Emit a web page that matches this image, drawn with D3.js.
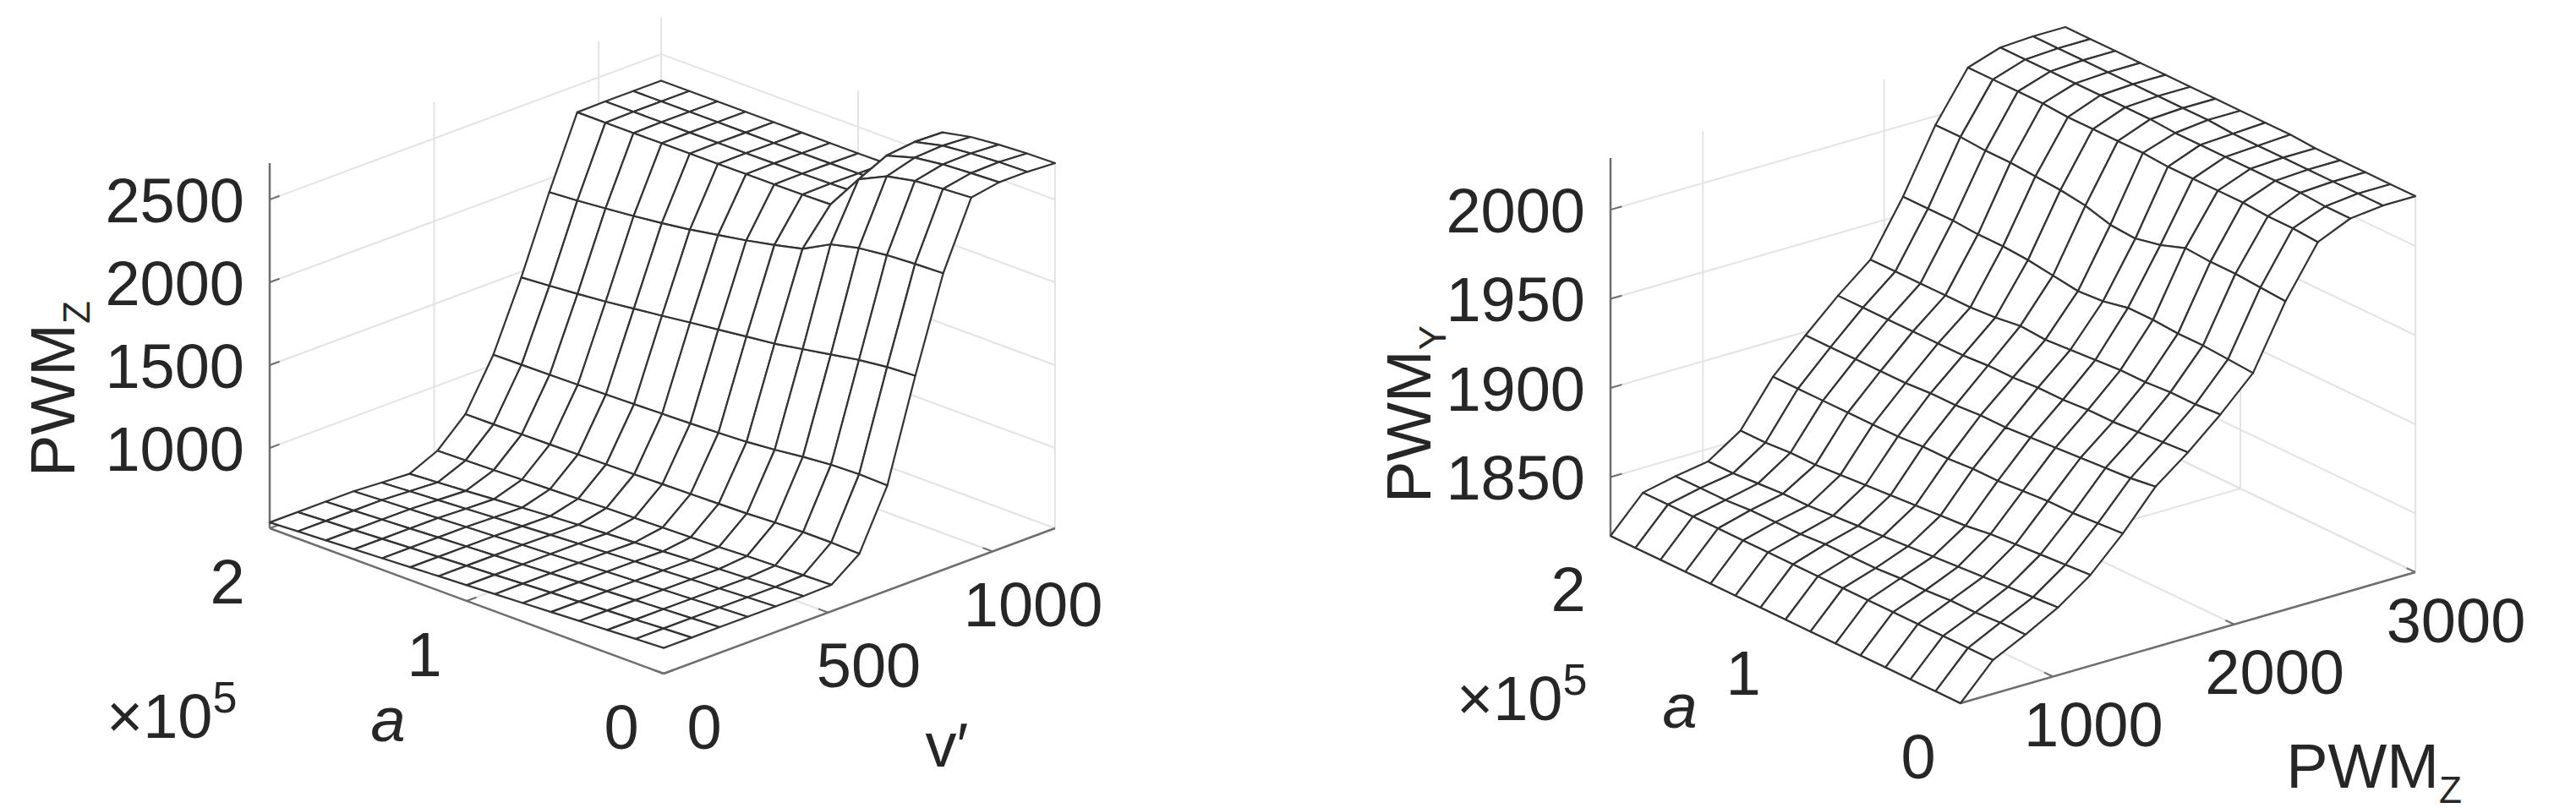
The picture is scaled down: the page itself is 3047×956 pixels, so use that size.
<!DOCTYPE html>
<html><head><meta charset="utf-8">
<script src="https://cdn.jsdelivr.net/npm/d3@7"></script>
<style>html,body{margin:0;padding:0;background:#fff;}svg text{font-family:"Liberation Sans",Arial,sans-serif;fill:#262626;}</style>
</head><body>
<svg id="c" width="3047" height="956"></svg>
<script>
// ---------- data ----------
const aVals = [0,0.142857,0.285714,0.428571,0.571429,0.714286,0.857143,1,1.142857,1.285714,1.428571,1.571429,1.714286,1.857143,2]; // ×10^5
const vVals = [0,85,170,255,340,425,510,595,680,765,850,935,1020,1105,1190];
const pwmZVals = [490,669,848,1028,1207,1386,1566,1745,1924,2104,2283,2462,2641,2821,3000];
const pwmZSurface = [
 [670,670,670,670,670,670,675,800,1150,1750,2306,2700,2730,2730,2720],
 [662,662,662,662,662,662,670,805,1155,1740,2300,2690,2722,2726,2716],
 [653,653,653,653,653,653,665,805,1150,1720,2290,2675,2712,2716,2706],
 [645,645,645,645,645,645,660,800,1135,1690,2270,2640,2690,2700,2690],
 [636,636,636,636,636,636,652,792,1115,1660,2230,2560,2640,2660,2655],
 [628,628,628,628,628,626,648,788,1100,1630,2140,2345,2350,2348,2345],
 [619,619,619,619,619,617,644,784,1092,1610,2100,2342,2345,2344,2342],
 [610,610,610,610,610,608,640,781,1086,1590,2065,2340,2343,2342,2340],
 [602,602,602,602,600,598,636,778,1081,1570,2035,2340,2342,2341,2340],
 [593,593,593,593,590,588,630,775,1076,1548,2005,2339,2341,2340,2340],
 [585,585,585,585,580,576,625,772,1072,1528,1982,2338,2341,2340,2340],
 [576,576,576,576,570,565,620,770,1068,1508,1962,2338,2340,2340,2340],
 [567,567,567,567,560,552,615,768,1065,1492,1945,2337,2340,2340,2340],
 [559,559,559,559,550,541,611,766,1063,1478,1930,2337,2340,2340,2340],
 [550,550,550,550,540,530,607,765,1061,1466,1918,2337,2340,2340,2340]
];
const pwmYSurface = [
 [1817,1836,1845,1855,1868,1886,1907,1921,1937,1955,1990,2018,2026,2028,2028],
 [1817,1836,1845,1854,1867,1885,1905,1920,1936,1956,1991,2019,2026,2028,2028],
 [1817,1836,1844,1853,1866,1884,1904,1919,1936,1957,1992,2019,2027,2028,2028],
 [1817,1836,1844,1852,1865,1884,1903,1918,1935,1957,1992,2020,2027,2028,2028],
 [1817,1836,1843,1851,1864,1883,1902,1918,1935,1958,1993,2020,2027,2028,2028],
 [1817,1836,1843,1850,1862,1882,1901,1917,1934,1958,1988,2020,2027,2028,2029],
 [1817,1836,1842,1849,1861,1882,1900,1917,1933,1955,1985,2020,2027,2028,2029],
 [1817,1836,1842,1848,1860,1881,1900,1916,1932,1954,1986,2021,2027,2029,2029],
 [1817,1836,1842,1847,1859,1881,1899,1916,1933,1956,1990,2021,2028,2029,2029],
 [1817,1836,1841,1846,1858,1880,1899,1915,1931,1958,1992,2021,2028,2029,2029],
 [1817,1836,1841,1845,1857,1880,1898,1915,1930,1959,1993,2021,2028,2029,2029],
 [1817,1836,1841,1845,1856,1880,1898,1915,1930,1959,1994,2022,2028,2029,2029],
 [1817,1836,1840,1844,1856,1880,1898,1915,1930,1960,1994,2022,2028,2029,2029],
 [1817,1836,1840,1843,1855,1880,1898,1915,1930,1960,1995,2022,2028,2029,2029],
 [1817,1836,1840,1843,1855,1880,1898,1915,1930,1960,1995,2022,2028,2029,2029]
];
const aTicks = [0,1,2];
const vTicks = [0,500,1000];
const pwmZTicks = [1000,2000,3000];
const zTicksL = [1000,1500,2000,2500];
const zTicksR = [1850,1900,1950,2000];

// ---------- drawing ----------
const svg = d3.select("#c");

function drawChart(cfg){
  const g = svg.append("g");
  const sa = d3.scaleLinear().domain(cfg.aDom).range([0,1]);
  const sx = d3.scaleLinear().domain(cfg.xDom).range([0,1]);
  const sz = d3.scaleLinear().domain(cfg.zDom).range([0,1]);
  const B=cfg.B, A=[cfg.L[0]-B[0],cfg.L[1]-B[1]], X=[cfg.R[0]-B[0],cfg.R[1]-B[1]], H=cfg.H;
  const P=(af,xf,zf)=>[B[0]+af*A[0]+xf*X[0], B[1]+af*A[1]+xf*X[1]-zf*H];
  const line=(p,q,col,w)=>g.append("line").attr("x1",p[0]).attr("y1",p[1]).attr("x2",q[0]).attr("y2",q[1]).attr("stroke",col).attr("stroke-width",w);
  const gridCol="#e3e3e3";
  // back wall a=max (spanning x,z)
  cfg.xTicks.forEach(t=>{const f=sx(t); line(P(1,f,0),P(1,f,1),gridCol,2);});
  cfg.zTicks.forEach(t=>{const f=sz(t); line(P(1,0,f),P(1,1,f),gridCol,2);});
  // back wall x=max (spanning a,z)
  cfg.aTicks.forEach(t=>{const f=sa(t); line(P(f,1,0),P(f,1,1),gridCol,2);});
  cfg.zTicks.forEach(t=>{const f=sz(t); line(P(0,1,f),P(1,1,f),gridCol,2);});
  // floor
  cfg.aTicks.forEach(t=>{const f=sa(t); line(P(f,0,0),P(f,1,0),gridCol,2);});
  cfg.xTicks.forEach(t=>{const f=sx(t); line(P(0,f,0),P(1,f,0),gridCol,2);});
  // box back edges
  line(P(1,1,0),P(1,1,1),gridCol,2);
  line(P(1,0,0),P(1,1,0),gridCol,2);
  line(P(0,1,0),P(1,1,0),gridCol,2);
  // axes
  const axCol="#6e6e6e";
  line(P(1,0,0),P(1,0,1),axCol,2.5);
  line(P(0,0,0),P(1,0,0),axCol,2.5);
  line(P(0,0,0),P(0,1,0),axCol,2.5);
  const tl=0.025;
  cfg.zTicks.forEach(t=>{const f=sz(t); line(P(1,0,f),P(1,tl,f),axCol,2);});
  cfg.aTicks.forEach(t=>{const f=sa(t); line(P(f,0,0),P(f,tl,0),axCol,2);});
  cfg.xTicks.forEach(t=>{const f=sx(t); line(P(0,f,0),P(tl,f,0),axCol,2);});
  // mesh quads
  const Z=cfg.surf, n=cfg.aGrid.length, m=cfg.xGrid.length, quads=[];
  for(let i=0;i<n-1;i++)for(let j=0;j<m-1;j++){
    const pts=[[i,j],[i+1,j],[i+1,j+1],[i,j+1]].map(([a,b])=>[sa(cfg.aGrid[a]),sx(cfg.xGrid[b]),sz(Z[a][b])]);
    const c=pts.reduce((s,p)=>[s[0]+p[0]/4,s[1]+p[1]/4,s[2]+p[2]/4],[0,0,0]);
    quads.push({pts, d:cfg.depth[0]*c[0]+cfg.depth[1]*c[1]+cfg.depth[2]*c[2]});
  }
  quads.sort((p,q)=>q.d-p.d);
  g.selectAll("path.q").data(quads).join("path").attr("class","q")
    .attr("d",q=>"M"+q.pts.map(p=>P(p[0],p[1],p[2]).join(",")).join("L")+"Z")
    .attr("fill","#fff").attr("stroke","#333").attr("stroke-width",2.2).attr("stroke-linejoin","round");
  // labels
  const fs=74;
  cfg.zTicks.forEach(t=>{const p=P(1,0,sz(t)); g.append("text").attr("x",p[0]-30).attr("y",p[1]).attr("dy","0.36em").attr("text-anchor","end").attr("font-size",fs).text(t);});
  cfg.aTicks.forEach(t=>{const p=P(sa(t),0,0); g.append("text").attr("x",p[0]+cfg.aOff[0]).attr("y",p[1]+cfg.aOff[1]).attr("dy","0.36em").attr("text-anchor","middle").attr("font-size",fs).text(t);});
  cfg.xTicks.forEach(t=>{const p=P(0,sx(t),0); g.append("text").attr("x",p[0]+cfg.xOff[0]).attr("y",p[1]+cfg.xOff[1]).attr("dy","0.36em").attr("text-anchor","middle").attr("font-size",fs).text(t);});
  // x10^5
  const e=g.append("text").attr("x",cfg.exp[0]).attr("y",cfg.exp[1]).attr("font-size",fs).attr("fill","#555");
  e.append("tspan").text("×10");
  e.append("tspan").attr("dy",-30).attr("font-size",52).text("5");
  g.append("text").attr("x",cfg.aLab[0]).attr("y",cfg.aLab[1]).attr("dy","0.36em").attr("text-anchor","middle").attr("font-size",fs).attr("font-style","italic").text("a");
  // x label
  const xl=g.append("text").attr("x",cfg.xLab[0]).attr("y",cfg.xLab[1]).attr("dy","0.36em").attr("text-anchor","middle").attr("font-size",fs);
  xl.append("tspan").text(cfg.xName[0]);
  if(cfg.xName[1]) xl.append("tspan").attr("dy",18).attr("font-size",44).text(cfg.xName[1]);
  // z label
  const zl=g.append("text").attr("transform",`translate(${cfg.zLab[0]},${cfg.zLab[1]}) rotate(-90)`).attr("text-anchor","middle").attr("font-size",fs);
  zl.append("tspan").text(cfg.zName[0]);
  zl.append("tspan").attr("dy",18).attr("font-size",44).text(cfg.zName[1]);
}

drawChart({B:[785,797],L:[319,625],R:[1248,625],H:432,
  aDom:[0,2],xDom:[0,1190],zDom:[515,2720],
  aGrid:aVals,xGrid:vVals,surf:pwmZSurface,
  aTicks:aTicks,xTicks:vTicks,zTicks:zTicksL,depth:[432,431,-172],
  aOff:[-50,62],xOff:[48,62],exp:[126,873],aLab:[459,850],xLab:[1120,880],
  xName:["v′"],zLab:[88,460],zName:["PWM","Z"]});

drawChart({B:[2319,832],L:[1905,634],R:[2857,677],H:447,
  aDom:[0,2],xDom:[490,3000],zDom:[1817,2029],
  aGrid:aVals,xGrid:pwmZVals,surf:pwmYSurface,
  aTicks:aTicks,xTicks:pwmZTicks,zTicks:zTicksR,depth:[495,387,-179],
  aOff:[-50,62],xOff:[48,56],exp:[1723,852],aLab:[1987,834],xLab:[2808,905],
  xName:["PWM","Z"],zLab:[1692,490],zName:["PWM","Y"]});
</script>
</body></html>
